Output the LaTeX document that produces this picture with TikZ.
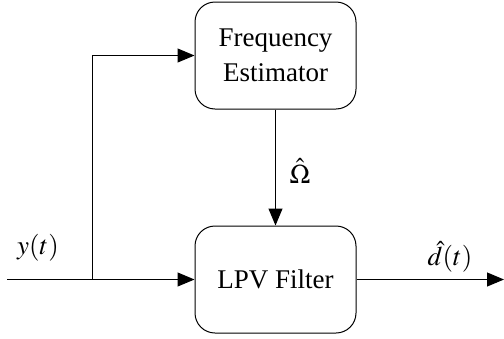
\documentclass[tikz,border=0pt]{standalone}
\usepackage{mathptmx}
\usepackage{fontspec}
\setmainfont{Liberation Serif}
\usetikzlibrary{arrows.meta}
\begin{document}
\begin{tikzpicture}[x=1pt,y=-1pt,
  block/.style={draw,line width=1pt,rounded corners=20pt,minimum width=161pt,minimum height=107pt,
    align=center,inner sep=0pt,font=\fontsize{27}{35}\selectfont},
  lbl/.style={inner sep=0pt,font=\fontsize{27}{32}\selectfont},
  wire/.style={line width=1pt},
  sig/.style={wire,-{Triangle[length=17pt,width=14pt]}}]
\useasboundingbox (0,0) rectangle (504,338);
\node[block] (fe) at (275.5,55.5) {Frequency\\Estimator};
\node[block] (lpv) at (275.5,279.5) {LPV Filter};
\coordinate (in) at (7,279.5);
\coordinate (br) at (92,279.5);
\coordinate (out) at (504,279.5);
\draw[wire] (in) -- (br);
\draw[sig] (br) -- (lpv.west);
\draw[sig] (br) |- (fe.west);
\draw[sig] (fe.south) -- (lpv.north);
\draw[sig] (lpv.east) -- (out);
\node[lbl] (ylab) at (38,248) {$y(t)$};
\node[lbl] (wlab) at (300,171) {$\hat{\Omega}$};
\node[lbl] (dlab) at (450,257) {$\hat{d}(t)$};
\end{tikzpicture}
\end{document}
